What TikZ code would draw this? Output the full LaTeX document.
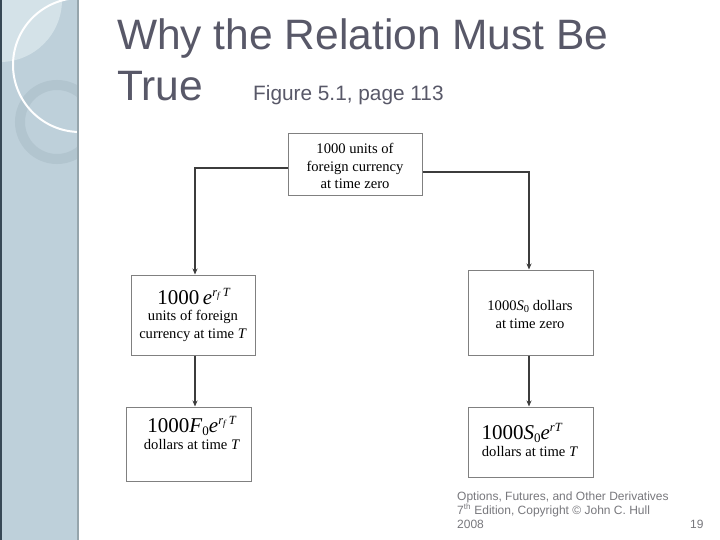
\documentclass[tikz,border=0pt]{standalone}
\usepackage{fontspec}
\setmainfont{Liberation Serif}
\newfontfamily\arialf{Liberation Sans}
\usetikzlibrary{arrows.meta}
\definecolor{titlecol}{RGB}{88,88,104}
\definecolor{footcol}{RGB}{120,120,125}
\definecolor{panelcol}{RGB}{190,208,218}
\definecolor{panellight}{RGB}{212,226,232}
\definecolor{ringcol}{RGB}{178,197,207}
\definecolor{boxline}{RGB}{128,128,128}
\definecolor{conncol}{RGB}{60,60,60}
\definecolor{paneldark}{RGB}{55,72,85}
\definecolor{paneledge}{RGB}{150,165,172}
\newcommand{\expo}[1]{\raisebox{0.8ex}{\fontsize{12.5}{12.5}\selectfont #1}}
\newcommand{\rfT}{\textit{r}\raisebox{-0.35ex}{\fontsize{9}{9}\selectfont\textit{f}}\,\textit{T}}
\begin{document}
\begin{tikzpicture}[x=1pt,y=-1pt,
  fbox/.style={draw=boxline,line width=1pt,rectangle,inner sep=0pt},
  btxt/.style={align=center,font=\fontsize{14.6}{17.8}\selectfont,inner sep=0pt},
  conn/.style={draw=conncol,line width=1.1pt,-{Stealth[length=6pt,width=5pt]}},
  title/.style={anchor=base west,inner sep=0pt,text=titlecol,font=\arialf\fontsize{42.5}{42.5}\selectfont},
  foot/.style={anchor=base west,inner sep=0pt,text=footcol,font=\arialf\fontsize{12}{14}\selectfont}]
\useasboundingbox (0,0) rectangle (720,540);
\fill[white] (0,0) rectangle (720,540);
% side panel
\begin{scope}
\clip (0,0) rectangle (78,540);
\fill[panelcol] (0,0) rectangle (78,540);
\fill[panellight] (0,0) circle (62);
\draw[ringcol,line width=10pt] (57,122) circle (37);
\draw[white,line width=2pt] (80,65) circle (67);
\end{scope}
\draw[paneldark,line width=2pt] (1,0) -- (1,540);
\draw[paneledge,line width=1.5pt] (78,0) -- (78,540);
% title
\node[title] (t1) at (117,50) {Why the Relation Must Be};
\node[title] (t2) at (117,101) {True};
\node[anchor=base west,inner sep=0pt,text=titlecol,font=\arialf\fontsize{20.8}{21}\selectfont] (t3) at (253,101) {Figure 5.1, page 113};
% boxes
\node[fbox,minimum width=134pt,minimum height=62pt] (top) at (355,165) {};
\node[fbox,minimum width=124pt,minimum height=80pt] (l1) at (193,315) {};
\node[fbox,minimum width=125pt,minimum height=85pt] (r1) at (530.5,312.5) {};
\node[fbox,minimum width=125pt,minimum height=74pt] (l2) at (188.5,444) {};
\node[fbox,minimum width=125pt,minimum height=70pt] (r2) at (530.5,442) {};
% texts (base = baseline of last line)
\node[btxt,anchor=base] (toptx) at (355,189) {1000 units of\\foreign currency\\at time zero};
\node[inner sep=0pt,anchor=base,font=\fontsize{21}{21}\selectfont] (l1a) at (194,304) {1000\,\textit{e}\expo{\rfT}};
\node[btxt,anchor=base] (l1b) at (193,338) {units of foreign\\currency at time \textit{T}};
\node[btxt,anchor=base] (r1tx) at (530,328) {1000\textit{S}\raisebox{-0.35ex}{\fontsize{10.5}{10.5}\selectfont 0} dollars\\at time zero};
\node[inner sep=0pt,anchor=base,font=\fontsize{21}{21}\selectfont] (l2a) at (192,432) {1000\textit{F}\raisebox{-0.35ex}{\fontsize{13}{13}\selectfont 0}\textit{e}\expo{\rfT}};
\node[btxt,anchor=base] (l2b) at (192,449) {dollars at time \textit{T}};
\node[inner sep=0pt,anchor=base,font=\fontsize{21}{21}\selectfont] (r2a) at (522,439) {1000\textit{S}\raisebox{-0.35ex}{\fontsize{13}{13}\selectfont 0}\textit{e}\expo{\textit{rT}}};
\node[btxt,anchor=base] (r2b) at (530,456) {dollars at time \textit{T}};
% connectors
\draw[conn] (top.west |- 0,168) -| (l1.north -| 195,0);
\draw[conn] (top.east |- 0,172) -| (r1.north -| 529,0);
\draw[conn] (l1.south -| 195,0) -- (l2.north -| 195,0);
\draw[conn] (r1.south -| 529,0) -- (r2.north -| 529,0);
% footer
\node[foot] (f1) at (457,500) {Options, Futures, and Other Derivatives};
\node[foot] (f2) at (457,514) {7\textsuperscript{th} Edition, Copyright © John C. Hull};
\node[foot] (f3) at (457,528) {2008};
\node[foot] (f4) at (690,528) {19};
\end{tikzpicture}
\end{document}
